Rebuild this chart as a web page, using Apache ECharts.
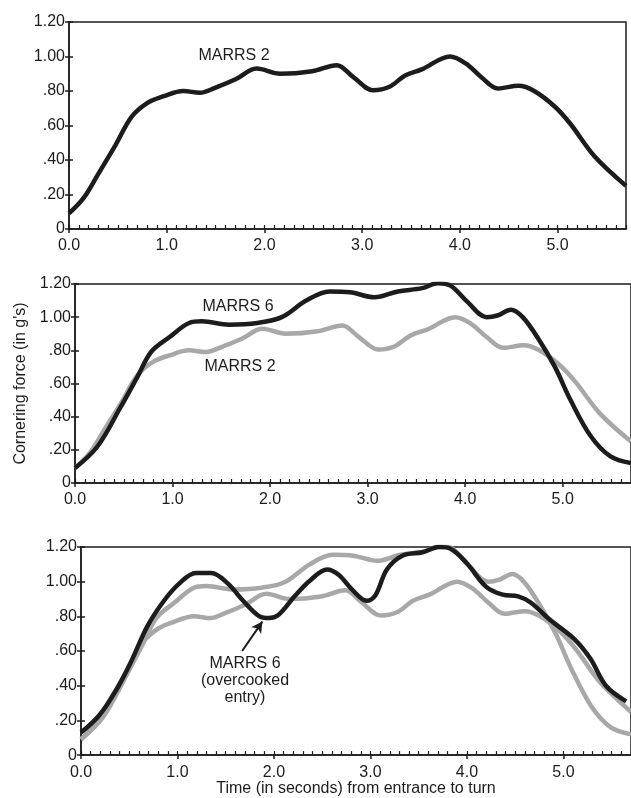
<!DOCTYPE html>
<html>
<head>
<meta charset="utf-8">
<script src="https://cdn.jsdelivr.net/npm/echarts@6/dist/echarts.min.js"></script>
<style>
  html, body { margin: 0; padding: 0; background: #fff; }
  #chart { width: 631px; height: 798px; }
</style>
</head>
<body>
<div id="chart"></div>
<script>
// MARRS 2 (time in s, cornering force in g's)
var m2Time = [0, 0.15, 0.3, 0.47, 0.64, 0.8, 0.97, 1.17, 1.34, 1.5, 1.71, 1.92, 2.16, 2.49, 2.74, 2.91, 3.11, 3.28, 3.44, 3.61, 3.9, 4.06, 4.22, 4.39, 4.6, 4.76, 4.97, 5.13, 5.38, 5.7];
var m2Force = [0.09, 0.18, 0.32, 0.48, 0.65, 0.73, 0.77, 0.80, 0.79, 0.82, 0.87, 0.93, 0.90, 0.915, 0.95, 0.88, 0.805, 0.825, 0.89, 0.925, 1.00, 0.96, 0.88, 0.815, 0.83, 0.80, 0.71, 0.61, 0.42, 0.25];
// MARRS 6
var m6Time = [0, 0.23, 0.47, 0.64, 0.78, 0.97, 1.17, 1.3, 1.58, 1.87, 2.12, 2.37, 2.61, 2.82, 3.07, 3.31, 3.56, 3.72, 3.85, 4.01, 4.22, 4.33, 4.47, 4.59, 4.75, 4.92, 5.08, 5.29, 5.49, 5.7];
var m6Force = [0.09, 0.22, 0.46, 0.64, 0.79, 0.88, 0.965, 0.975, 0.955, 0.965, 1.00, 1.10, 1.155, 1.15, 1.12, 1.155, 1.175, 1.205, 1.19, 1.10, 1.00, 1.01, 1.045, 1.00, 0.87, 0.70, 0.50, 0.28, 0.16, 0.12];
// MARRS 6, overcooked entry
var ocTime = [0, 0.19, 0.36, 0.52, 0.69, 0.86, 1.02, 1.19, 1.35, 1.52, 1.68, 1.85, 1.95, 2.05, 2.22, 2.38, 2.55, 2.67, 2.8, 2.96, 3.05, 3.17, 3.33, 3.54, 3.71, 3.83, 4.0, 4.2, 4.37, 4.53, 4.66, 4.86, 5.11, 5.28, 5.44, 5.65];
var ocForce = [0.13, 0.23, 0.37, 0.54, 0.745, 0.89, 0.99, 1.05, 1.05, 0.99, 0.89, 0.80, 0.79, 0.81, 0.92, 1.01, 1.07, 1.04, 0.96, 0.89, 0.92, 1.07, 1.15, 1.17, 1.20, 1.19, 1.105, 0.97, 0.925, 0.915, 0.88, 0.78, 0.67, 0.555, 0.40, 0.31];

var xMax = 5.7;
var yMax = 1.2;
var arrowFrom = [1.67, 0.60];
var arrowTo = [1.88, 0.77];

function pairs(t, f) {
    var out = [];
    for (var i = 0; i < t.length; i++) out.push([t[i], f[i]]);
    return out;
}

var ink = '#1c1c1c';
var grey = '#a8a8a8';
var font = 'Liberation Sans, Arial, sans-serif';

var grids = [
    {left: 69, top: 22, width: 557, height: 207},
    {left: 75, top: 284, width: 559, height: 199},
    {left: 81, top: 547, width: 559, height: 211}
];

var xAxes = [], yAxes = [];
grids.forEach(function (g, i) {
    g.show = true;
    g.borderColor = ink;
    g.borderWidth = 1.5;
    // main x axis: labels + integer ticks downward
    xAxes.push({
        type: 'value', gridIndex: i, position: 'bottom', min: 0, max: xMax, interval: 1,
        axisLine: {show: true, lineStyle: {color: ink, width: 1.5}},
        axisTick: {show: true, inside: false, length: 4, lineStyle: {color: ink, width: 1.5}},
        splitLine: {show: false},
        axisLabel: {
            show: true, color: ink, fontSize: 16, fontFamily: font, margin: 9,
            showMaxLabel: false,
            formatter: function (v) { return Math.abs(v - Math.round(v)) < 1e-6 ? v.toFixed(1) : ''; }
        },
        name: i === 2 ? 'Time (in seconds) from entrance to turn' : '',
        nameLocation: 'middle', nameGap: 25,
        nameTextStyle: {color: ink, fontSize: 16, fontFamily: font}
    });
    // minor tenth-second ticks pointing up
    xAxes.push({
        type: 'value', gridIndex: i, position: 'bottom', min: 0, max: xMax, interval: 0.1,
        axisLine: {show: false},
        axisTick: {show: true, inside: true, length: 4, lineStyle: {color: ink, width: 1.2}},
        splitLine: {show: false},
        axisLabel: {show: false}
    });
    yAxes.push({
        type: 'value', gridIndex: i, position: 'left', min: 0, max: yMax, interval: 0.2,
        axisLine: {show: true, lineStyle: {color: ink, width: 1.5}},
        axisTick: {show: true, inside: false, length: 4, lineStyle: {color: ink, width: 1.5}},
        splitLine: {show: false},
        axisLabel: {
            color: ink, fontSize: 16, fontFamily: font, margin: 4,
            formatter: function (v) {
                if (v < 1e-6) return '0';
                var s = v.toFixed(2);
                return v < 1 ? s.slice(1) : s;
            }
        },
        name: i === 1 ? "Cornering force (in g's)" : '',
        nameLocation: 'middle', nameGap: 46, nameRotate: 90,
        nameTextStyle: {color: ink, fontSize: 16, fontFamily: font}
    });
    yAxes.push({
        type: 'value', gridIndex: i, position: 'left', min: 0, max: yMax, interval: 0.2,
        axisLine: {show: false},
        axisTick: {show: true, inside: true, length: 4, lineStyle: {color: ink, width: 1.5}},
        splitLine: {show: false},
        axisLabel: {show: false}
    });
});

function line(name, t, f, grid, color, z) {
    return {
        name: name, type: 'line', xAxisIndex: grid * 2, yAxisIndex: grid * 2,
        data: pairs(t, f), smooth: 0.35, showSymbol: false, symbol: 'none',
        lineStyle: {color: color, width: 4.5}, z: z, silent: true
    };
}

var series = [
    line('MARRS 2', m2Time, m2Force, 0, ink, 3),
    line('MARRS 2', m2Time, m2Force, 1, grey, 2),
    line('MARRS 6', m6Time, m6Force, 1, ink, 3),
    line('MARRS 2', m2Time, m2Force, 2, grey, 2),
    line('MARRS 6', m6Time, m6Force, 2, grey, 2),
    line('MARRS 6 (overcooked entry)', ocTime, ocForce, 2, ink, 3)
];
series[5].markLine = {
    silent: true, symbol: ['none', 'arrow'], symbolSize: [9, 11],
    label: {show: false},
    lineStyle: {color: ink, width: 2, type: 'solid'},
    data: [[{coord: arrowFrom}, {coord: arrowTo}]]
};

function txt(s, x, y) {
    return {
        type: 'text', x: x, y: y, z: 10,
        style: {text: s, fill: ink, font: '16px ' + font, textAlign: 'center', textVerticalAlign: 'middle'}
    };
}

var option = {
    backgroundColor: '#fff',
    animation: false,
    grid: grids,
    xAxis: xAxes,
    yAxis: yAxes,
    series: series,
    graphic: [
        txt('MARRS 2', 234, 56),
        txt('MARRS 6', 238, 307),
        txt('MARRS 2', 240, 367),
        txt('MARRS 6', 245, 664),
        txt('(overcooked', 245, 681),
        txt('entry)', 245, 698)
    ]
};

var myChart = echarts.init(document.getElementById('chart'));
myChart.setOption(option);
</script>
</body>
</html>
